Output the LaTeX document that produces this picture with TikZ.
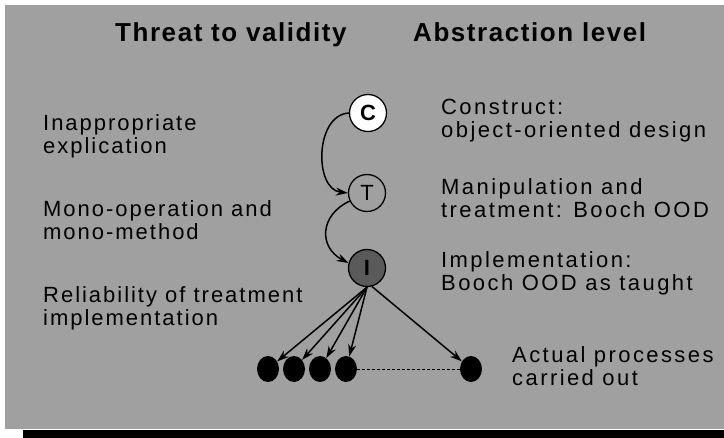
\documentclass[tikz,border=0pt]{standalone}
\usepackage{fontspec}
\setmainfont{Liberation Sans}[LetterSpace=9]
\newfontfamily\widefont{Liberation Sans}[LetterSpace=11]
\newfontfamily\headfont{Liberation Sans}[LetterSpace=6]
\usetikzlibrary{arrows.meta,shapes.geometric}
\definecolor{panel}{RGB}{160,160,160}
\definecolor{ifill}{RGB}{90,90,90}
\tikzset{
  head/.style={anchor=base west, inner sep=0pt, font=\headfont\bfseries\fontsize{26}{28}\selectfont},
  threat/.style={anchor=base west, inner sep=0pt, align=left, font=\fontsize{22}{23}\selectfont},
  level/.style={anchor=base west, inner sep=0pt, align=left, font=\widefont\fontsize{22}{23.5}\selectfont},
  stage/.style={circle, draw=black, line width=1.3pt, minimum size=37pt, inner sep=0pt,
                font=\fontsize{22}{22}\selectfont},
  proc/.style={ellipse, fill=black, minimum width=22pt, minimum height=26pt, inner sep=0pt},
  link/.style={line width=1.5pt, -{Stealth[length=12pt,width=8pt]}},
}
\begin{document}
\begin{tikzpicture}[x=1pt,y=-1pt]
\useasboundingbox (0,0) rectangle (724,438);
\fill[white] (0,0) rectangle (724,438);
\fill[panel] (5,5) rectangle (724,429);
\fill[black] (23,430) rectangle (724,438);

% column headings
\node[head] (h1) at (115,42) {Threat to validity};
\node[head] (h2) at (413,42) {Abstraction level};

% abstraction stages
\node[stage, fill=white, font=\fontsize{22}{22}\selectfont\bfseries] (C) at (368,113) {C};
\node[stage, fill=panel] (T) at (367,193) {T};
\node[stage, fill=ifill, font=\fontsize{22}{22}\selectfont\bfseries] (I) at (367,268) {I};

\draw[link] (C.west) .. controls +(-34,2) and +(-34,-4) .. (T.west);
\draw[link] (T.205) .. controls +(-30,14) and +(-30,-16) .. (I.165);

% threats (anchored at the baseline of the last line)
\node[threat] (t1) at (43,154) {Inappropriate\\explication};
\node[threat] (t2) at (43,240) {Mono-operation and\\mono-method};
\node[threat] (t3) at (43,326) {Reliability of treatment\\implementation};

% abstraction levels
\node[level] (a1) at (441,138) {Construct:\\object-oriented design};
\node[level] (a2) at (441,218) {Manipulation and\\treatment: Booch OOD};
\node[level] (a3) at (441,291) {Implementation:\\Booch OOD as taught};
\node[level] (a4) at (512,386) {Actual processes\\carried out};

% actual processes
\node[proc] (d1) at (268,369) {};
\node[proc] (d2) at (294,369) {};
\node[proc] (d3) at (320,369) {};
\node[proc] (d4) at (346,369) {};
\node[proc] (d5) at (471,369) {};
\draw[densely dashed, line width=0.6pt] (d4) -- (d5);
\foreach \d in {d1,d2,d3,d4} \draw[link] (I.south) -- (\d);
\draw[link] (I.-75) -- (d5);
\end{tikzpicture}
\end{document}
